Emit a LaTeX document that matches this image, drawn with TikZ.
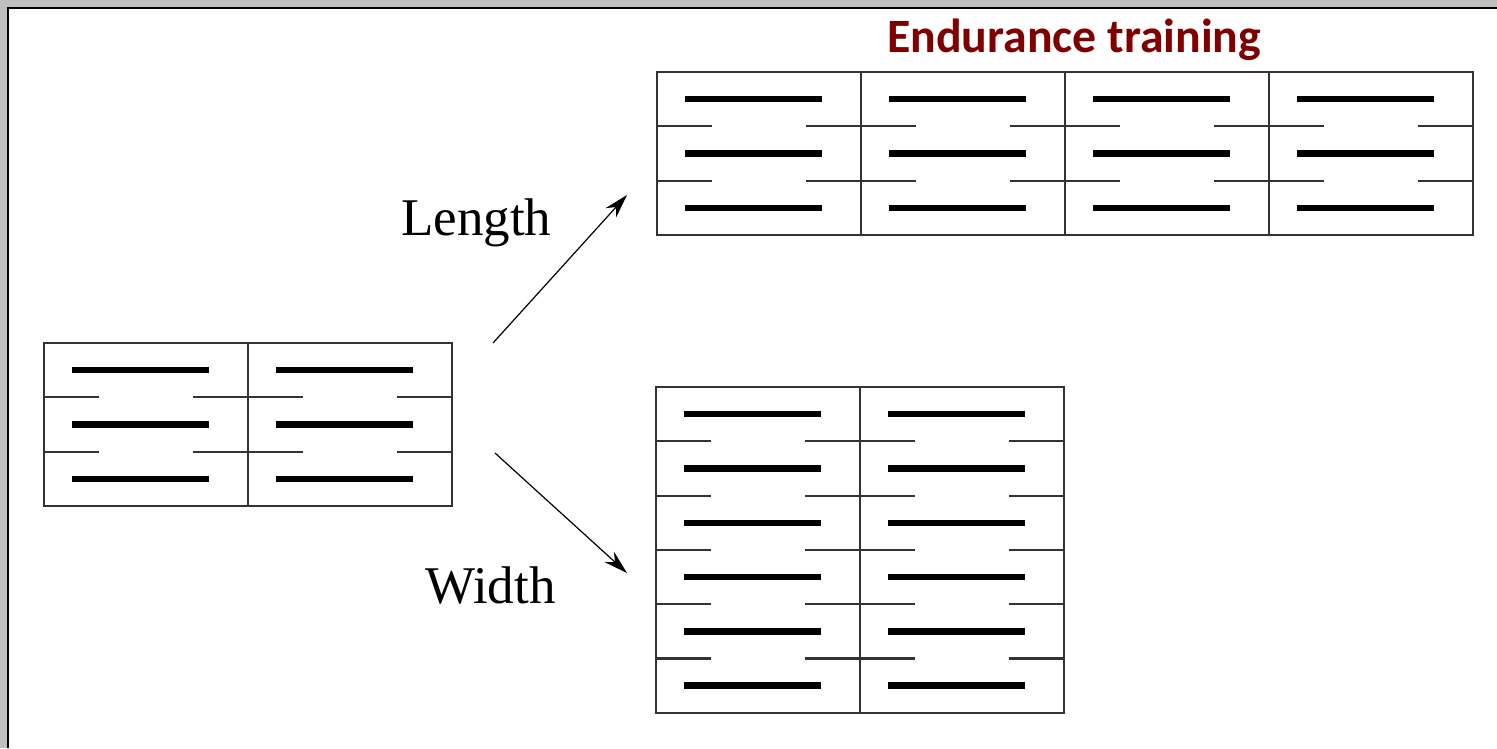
\documentclass[tikz,border=0pt]{standalone}
\usepackage{fontspec}
\setmainfont{Liberation Serif}
\newfontfamily\titlefont{Carlito}
\usetikzlibrary{arrows.meta}
\definecolor{titlered}{RGB}{128,0,0}
\def\cw{204}
\def\ch{54.3}
\tikzset{
  gridline/.style={line width=2.2pt,black!80},
  fibre/.style={line width=6.5pt,black},
  fibrearrow/.style={-{Stealth[length=24pt,width=14pt]},line width=1.2pt},
  axislabel/.style={anchor=base west,inner sep=0pt,font=\fontsize{53}{60}\selectfont},
}
% grid of fibres: #1 x, #2 y, #3 columns, #4 rows
\newcommand{\musclegrid}[4]{%
  \draw[gridline] (#1,#2) rectangle ({#1+#3*\cw},{#2+#4*\ch});
  \foreach \c in {1,...,\numexpr#3-1\relax}
    \draw[gridline] ({#1+\c*\cw},#2) -- ({#1+\c*\cw},{#2+#4*\ch});
  \foreach \c in {1,...,#3}{
    \foreach \r in {1,...,#4}{
      \pgfmathsetmacro\xl{#1+(\c-1)*\cw}
      \pgfmathsetmacro\yt{#2+(\r-1)*\ch}
      \draw[fibre] (\xl+28,\yt+0.5*\ch) -- (\xl+165,\yt+0.5*\ch);
      \ifnum\r>1
        \draw[gridline] (\xl,\yt) -- (\xl+55,\yt);
        \draw[gridline] (\xl+\cw-55,\yt) -- (\xl+\cw,\yt);
      \fi
    }
  }
}
\begin{document}
\begin{tikzpicture}[x=1pt,y=-1pt]
  \useasboundingbox (0,0) rectangle (1497,748);
  % Frame
  \fill[gray!50] (0,0) rectangle (1497,748);
  \fill[white] (8,8) rectangle (1497,748);
  \draw[line width=2pt] (8,748) -- (8,7.5) -- (1497,7.5);

  % Title
  \node[anchor=base west,inner sep=0pt,text=titlered] (title) at (887,52)
    {\titlefont\bfseries\fontsize{47.8}{54}\selectfont Endurance training};

  % Muscle before and after
  \musclegrid{44}{343}{2}{3}
  \musclegrid{657}{72}{4}{3}
  \musclegrid{656}{387}{2}{6}

  % Arrows and labels
  \coordinate (lenstart) at (493,343);
  \coordinate (lenend) at (627,195);
  \coordinate (widstart) at (495,453);
  \coordinate (widend) at (627,573);
  \draw[fibrearrow] (lenstart) -- (lenend);
  \draw[fibrearrow] (widstart) -- (widend);
  \node[axislabel] (length) at (401,235) {Length};
  \node[axislabel] (width) at (425,603) {Width};
\end{tikzpicture}
\end{document}
